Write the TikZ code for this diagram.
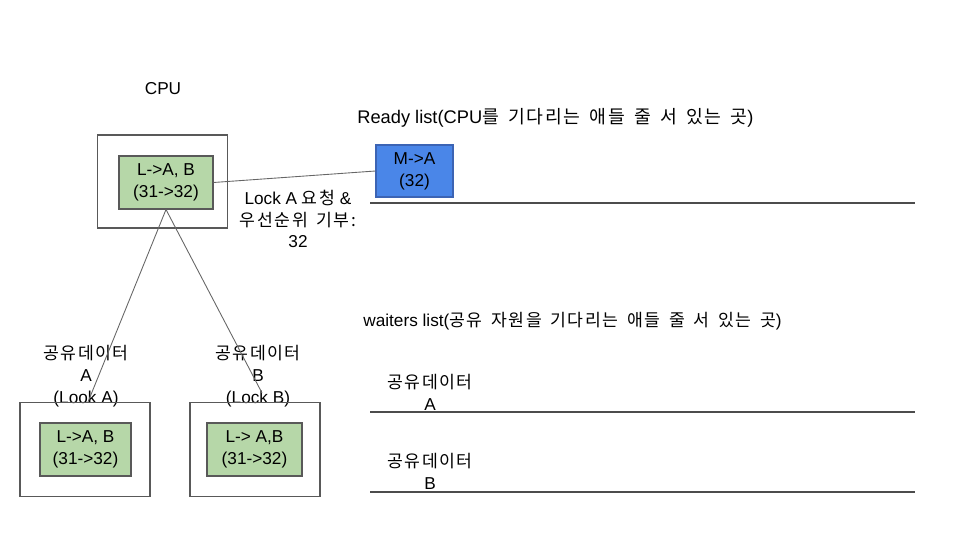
\documentclass[tikz,border=0pt]{standalone}
\usepackage{fontspec}
\setmainfont{Liberation Sans}
\newfontfamily\kr[LetterSpace=9, WordSpace=1.6]{Noto Sans CJK KR}
\usetikzlibrary{positioning}

\begin{document}
\begin{tikzpicture}[x=0.02cm, y=-0.02cm, font=\fontsize{9.8}{12.4}\selectfont]
        \tikzstyle{outer}=[draw=black!65, line width=0.6pt, minimum width=2.6cm, minimum height=1.88cm]
        \tikzstyle{thread}=[draw=black!65, line width=0.6pt, minimum width=1.86cm, minimum height=1.06cm, fill={rgb,255:red,182;green,215;blue,168}, align=center]
        \tikzstyle{ready}=[draw={rgb,255:red,60;green,100;blue,180}, line width=0.6pt, minimum width=1.54cm, minimum height=1.04cm, fill={rgb,255:red,74;green,134;blue,232}, align=center]
        \tikzstyle{txt}=[inner sep=0pt, align=center]
        \tikzstyle{link}=[draw=black!60, line width=0.5pt]
        \tikzstyle{rule}=[draw=black!70, line width=0.6pt]

        \useasboundingbox (0,0) rectangle (960,540);

        % CPU
        \node[txt] (cpulbl) at (163,89) {CPU};
        \node[outer, minimum height=1.86cm] (cpu) at (162.5,181.5) {};
        \node[thread, minimum width=1.88cm] (cpuin) at (166,182.5) {L->A, B\\(31->32)};

        % Ready list
        \node[txt, anchor=west, font=\fontsize{10.4}{12.4}\selectfont] (readylbl) at (357,118) {Ready list(CPU{\kr 를 기다리는 애들 줄 서 있는 곳})};
        \node[ready] (ma) at (414.5,171) {M->A\\(32)};
        \coordinate (r1) at (370,203); \coordinate (r2) at (915,203);
        \draw[rule] (r1) -- (r2);
        \draw[link] (cpuin.east) -- (ma.west);
        \node[txt] (req) at (298,219) {Lock A {\kr 요청} \&\\{\kr 우선순위 기부:}\\32};

        % 공유데이터 A, B
        \node[txt] (dlblA) at (86,376) {{\kr 공유데이터}\\A\\(Look A)};
        \node[outer] (dataA) at (85,449.5) {};
        \node[thread, minimum width=1.82cm] (thrA) at (85.5,449.5) {L->A, B\\(31->32)};
        \node[txt] (dlblB) at (258,376) {{\kr 공유데이터}\\B\\(Lock B)};
        \node[outer] (dataB) at (255,449.5) {};
        \node[thread, minimum width=1.9cm] (thrB) at (254.5,449.5) {L-> A,B\\(31->32)};
        \coordinate (endA) at (88,402);
        \coordinate (endB) at (262,393);
        \draw[link] (cpuin.south) -- (endA);
        \draw[link] (cpuin.south) -- (endB);

        % waiters list
        \node[txt, anchor=west] (waitlbl) at (363,321) {waiters list({\kr 공유 자원을 기다리는 애들 줄 서 있는 곳})};
        \node[txt] (wA) at (430,392.5) {{\kr 공유데이터}\\A};
        \coordinate (a1) at (370,412); \coordinate (a2) at (915,412);
        \draw[rule] (a1) -- (a2);
        \node[txt] (wB) at (430,471) {{\kr 공유데이터}\\B};
        \coordinate (b1) at (370,492); \coordinate (b2) at (915,492);
        \draw[rule] (b1) -- (b2);
\end{tikzpicture}
\end{document}
